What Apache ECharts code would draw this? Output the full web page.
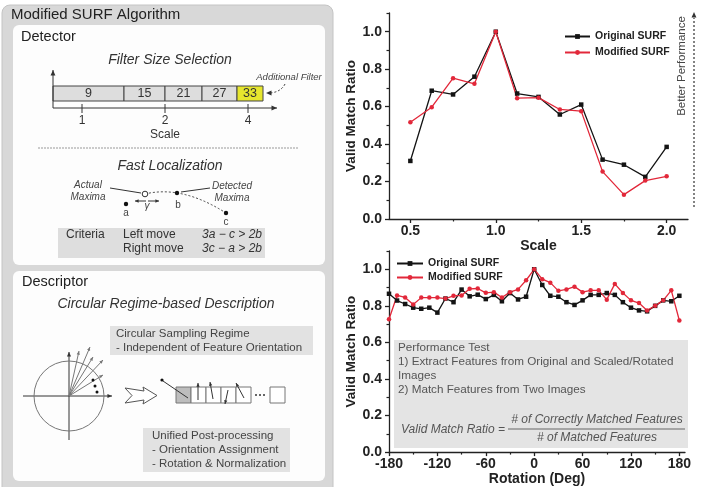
<!DOCTYPE html>
<html><head><meta charset="utf-8">
<script src="https://cdn.jsdelivr.net/npm/echarts@6/dist/echarts.min.js"></script>
<style>html,body{margin:0;padding:0;background:#fff}#c{width:701px;height:487px}</style>
</head><body><div id="c"></div>
<script>
// ---- data ----
const scaleX = [0.5, 0.625, 0.75, 0.875, 1.0, 1.125, 1.25, 1.375, 1.5, 1.625, 1.75, 1.875, 2.0];
const scaleOriginal = [0.31, 0.685, 0.665, 0.76, 1.0, 0.67, 0.652, 0.558, 0.611, 0.317, 0.29, 0.225, 0.385];
const scaleModified = [0.517, 0.597, 0.752, 0.722, 1.0, 0.645, 0.648, 0.585, 0.576, 0.253, 0.13, 0.205, 0.228];
const scaleTicks = [0.5, 1.0, 1.5, 2.0];
const scaleMinorTicks = [0.75, 1.25, 1.75];

const rotationX = [-180, -170, -160, -150, -140, -130, -120, -110, -100, -90, -80, -70, -60, -50, -40, -30, -20, -10, 0,
  10, 20, 30, 40, 50, 60, 70, 80, 90, 100, 110, 120, 130, 140, 150, 160, 170, 180];
const rotOriginal = [0.866, 0.829, 0.81, 0.79, 0.784, 0.79, 0.763, 0.84, 0.82, 0.889, 0.852, 0.861, 0.837, 0.86, 0.825, 0.87, 0.835, 0.85, 1.0,
  0.914, 0.855, 0.85, 0.82, 0.805, 0.83, 0.86, 0.86, 0.87, 0.86, 0.82, 0.79, 0.775, 0.77, 0.80, 0.83, 0.825, 0.855];
const rotModified = [0.727, 0.857, 0.846, 0.807, 0.845, 0.845, 0.845, 0.84, 0.855, 0.857, 0.893, 0.895, 0.871, 0.875, 0.846, 0.875, 0.89, 0.94, 1.0,
  0.946, 0.927, 0.882, 0.89, 0.905, 0.875, 0.885, 0.885, 0.834, 0.92, 0.87, 0.83, 0.815, 0.775, 0.80, 0.83, 0.885, 0.72];
const rotTicks = [-180, -120, -60, 0, 60, 120, 180];
const rotMinorTicks = [-150, -90, -30, 30, 90, 150];
const ratioTicks = [0, 0.2, 0.4, 0.6, 0.8, 1.0];
const ratioMinorTicks = [0.1, 0.3, 0.5, 0.7, 0.9, 1.1];
const seriesNames = ['Original SURF', 'Modified SURF'];
const filterSizes = ['9', '15', '21', '27', '33'];
const scaleLevels = ['1', '2', '4'];

// ---- helpers for the diagram ----
const FONT = '"Liberation Sans", Arial, Helvetica, sans-serif';
function font(size, o) { o = o || {}; return (o.italic ? 'italic ' : '') + (o.bold ? 'bold ' : '') + size + 'px ' + FONT; }
function T(text, x, y, size, o) {
  o = o || {};
  return { type: 'text', x: x, y: y, rotation: o.rot || 0, z: 10,
    style: { text: text, fill: o.fill || '#333', font: font(size, o), align: o.align || 'left', verticalAlign: 'middle' } };
}
function R(x, y, w, h, fill, o) {
  o = o || {};
  return { type: 'rect', z: o.z || 5, shape: { x: x, y: y, width: w, height: h, r: o.r || 0 },
    style: { fill: fill, stroke: o.stroke || null, lineWidth: o.lw || 1 } };
}
function L(x1, y1, x2, y2, o) {
  o = o || {};
  return { type: 'line', z: 10, shape: { x1: x1, y1: y1, x2: x2, y2: y2 },
    style: { stroke: o.stroke || '#333', lineWidth: o.lw || 1, lineDash: o.dash || null } };
}
function C(cx, cy, r, fill, stroke) {
  return { type: 'circle', z: 11, shape: { cx: cx, cy: cy, r: r }, style: { fill: fill, stroke: stroke || null, lineWidth: 1 } };
}
function A(x, y, ang, s, color) {
  s = s || 5;
  const a1 = ang - 0.42, a2 = ang + 0.42;
  return { type: 'polygon', z: 11, shape: { points: [[x, y], [x - s * Math.cos(a1), y - s * Math.sin(a1)], [x - s * Math.cos(a2), y - s * Math.sin(a2)]] },
    style: { fill: color || '#333' } };
}
function arrowLine(x1, y1, x2, y2, o) {
  o = o || {};
  const ang = Math.atan2(y2 - y1, x2 - x1);
  return [L(x1, y1, x2, y2, o), A(x2, y2, ang, o.s || 5, o.stroke)];
}

const g = [];
// outer panel
g.push(R(2, 5, 331, 495, '#d8d8d8', { r: 8, stroke: '#c4c4c4', z: 1 }));
g.push(T('Modified SURF Algorithm', 11, 15, 15, { fill: '#222' }));
// Detector box
g.push(R(13, 25, 312, 240, '#fdfdfd', { r: 6, z: 2 }));
g.push(T('Detector', 21, 37, 14.5, { fill: '#222' }));
g.push(T('Filter Size Selection', 170, 60, 14, { italic: true, align: 'center' }));
const cellEdges = [53, 124, 165, 202, 237, 263];
for (let i = 0; i < filterSizes.length; i++) {
  const x0 = cellEdges[i], x1 = cellEdges[i + 1];
  g.push(R(x0, 86, x1 - x0, 15, i === 4 ? '#e6e62e' : '#dddddd', { stroke: '#444', z: 6 }));
  g.push(T(filterSizes[i], (x0 + x1) / 2, 93.5, 12.5, { align: 'center', fill: '#333' }));
}
g.push(...arrowLine(53, 108, 53, 70, { s: 6 }));
g.push(...arrowLine(53, 108, 277, 108, { s: 6 }));
const lvX = [82, 165, 248];
for (let i = 0; i < 3; i++) {
  g.push(L(lvX[i], 104, lvX[i], 113));
  g.push(T(scaleLevels[i], lvX[i], 121, 12, { align: 'center' }));
}
g.push(T('Scale', 165, 135, 12, { align: 'center' }));
g.push(T('Additional Filter', 289, 77, 9.5, { italic: true, align: 'center', fill: '#444' }));
g.push({ type: 'bezierCurve', z: 10, shape: { x1: 285, y1: 84, cpx1: 281, cpy1: 92, x2: 270, y2: 93 }, style: { stroke: '#333', fill: null, lineDash: [2, 2], lineWidth: 1 } });
g.push(A(266, 93, Math.PI, 6));
g.push(L(38, 148, 298, 148, { stroke: '#999', dash: [2, 1] }));
g.push(T('Fast Localization', 170, 166, 14, { italic: true, align: 'center' }));
// localization sketch
g.push(T('Actual', 88, 185, 10, { italic: true, align: 'center', fill: '#444' }));
g.push(T('Maxima', 88, 197, 10, { italic: true, align: 'center', fill: '#444' }));
g.push(L(110, 188, 141, 193));
g.push({ type: 'bezierCurve', z: 10, shape: { x1: 145, y1: 194, cpx1: 182, cpy1: 185, x2: 226, y2: 213 }, style: { stroke: '#444', fill: null, lineDash: [2, 2], lineWidth: 1 } });
g.push(C(145, 194, 2.8, '#fff', '#333'));
g.push(C(126, 204, 2.2, '#111'));
g.push(C(177, 193, 2.2, '#111'));
g.push(C(226, 213, 2.2, '#111'));
g.push(T('a', 126, 213, 10, { align: 'center', fill: '#444' }));
g.push(T('b', 178, 205, 10, { align: 'center', fill: '#444' }));
g.push(T('c', 226, 222, 10, { align: 'center', fill: '#444' }));
g.push(...arrowLine(146, 201, 135, 201, { s: 4 }));
g.push(...arrowLine(148, 201, 159, 201, { s: 4 }));
g.push(T('\u03b3', 147, 206, 10, { italic: true, align: 'center', fill: '#444' }));
g.push(T('Detected', 232, 186, 10, { italic: true, align: 'center', fill: '#444' }));
g.push(T('Maxima', 232, 198, 10, { italic: true, align: 'center', fill: '#444' }));
g.push(L(181, 192, 210, 188));
g.push(R(58, 228, 207, 30, '#dedede', { z: 6 }));
g.push(T('Criteria', 66, 235, 12));
g.push(T('Left move', 123, 235, 12));
g.push(T('3a \u2212 c > 2b', 202, 235, 12, { italic: true }));
g.push(T('Right move', 123, 249, 12));
g.push(T('3c \u2212 a > 2b', 202, 249, 12, { italic: true }));
// Descriptor box
g.push(R(13, 271, 312, 210, '#fdfdfd', { r: 6, z: 2 }));
g.push(T('Descriptor', 22, 282, 14.5, { fill: '#222' }));
g.push(T('Circular Regime-based Description', 166, 304, 14, { italic: true, align: 'center' }));
g.push(R(110, 326, 203, 29, '#e2e2e2', { z: 6 }));
g.push(T('Circular Sampling Regime', 116, 334, 11.5, { fill: '#444' }));
g.push(T('- Independent of Feature Orientation', 116, 348, 11.5, { fill: '#444' }));
g.push(C(69, 396, 35, null, '#777'));
g.push(...arrowLine(23, 396, 112, 396, { s: 5 }));
g.push(...arrowLine(69, 440, 69, 352, { s: 5 }));
const rayEnds = [[79, 351], [90, 347], [93, 357], [103, 360], [103, 375]];
rayEnds.forEach(p => g.push(...arrowLine(69, 396, p[0], p[1], { s: 4, stroke: '#777' })));
[[93, 380], [95, 386], [97, 392]].forEach(p => g.push(C(p[0], p[1], 1.5, '#111')));
g.push({ type: 'polygon', z: 10, shape: { points: [[125, 388], [144, 391], [143, 387], [157, 395.5], [143, 404], [144, 400], [125, 403], [132, 395.5]] },
  style: { fill: '#fff', stroke: '#555', lineWidth: 1 } });
const boxX = [176, 191, 206, 221, 236];
boxX.forEach((x, i) => g.push(R(x, 387, 15, 16, i === 0 ? '#bdbdbd' : '#fff', { stroke: '#777', z: 9 })));
g.push(R(270, 387, 15, 16, '#fff', { stroke: '#777', z: 9 }));
[256, 260, 264].forEach(x => g.push(C(x, 395, 1, '#333')));
g.push(L(188, 398, 163, 381));
g.push(C(162, 380, 1.6, '#111'));
g.push(...arrowLine(198, 400, 198, 383, { s: 4 }));
g.push(...arrowLine(213, 399, 210, 382, { s: 4 }));
g.push(...arrowLine(228, 390, 225, 404, { s: 4 }));
g.push(...arrowLine(244, 398, 236, 383, { s: 4 }));
g.push(R(143, 428, 147, 44, '#e2e2e2', { z: 6 }));
g.push(T('Unified Post-processing', 152, 436, 11.5, { fill: '#444' }));
g.push(T('- Orientation Assignment', 152, 450, 11.5, { fill: '#444' }));
g.push(T('- Rotation & Normalization', 152, 464, 11.5, { fill: '#444' }));
// right-side annotations
g.push(T('Better Performance', 682, 66, 11.5, { rot: Math.PI / 2, align: 'center', fill: '#444' }));
g.push(L(694, 207, 694, 18, { dash: [2, 2], lw: 1.2 }));
g.push(A(694, 12, -Math.PI / 2, 6));
g.push(R(394, 340, 294, 108, '#e4e4e4', { z: 0 }));
g.push(T('Performance Test', 398, 348, 11.7, { fill: '#555' }));
g.push(T('1) Extract Features from Original and Scaled/Rotated', 398, 362, 11.7, { fill: '#555' }));
g.push(T('Images', 398, 376, 11.7, { fill: '#555' }));
g.push(T('2) Match Features from Two Images', 398, 390, 11.7, { fill: '#555' }));
g.push(T('Valid Match Ratio =', 505, 430, 12, { italic: true, align: 'right', fill: '#555' }));
g.push(L(508, 429, 685, 429, { stroke: '#666' }));
g.push(T('# of Correctly Matched Features', 597, 420, 12, { italic: true, align: 'center', fill: '#555' }));
g.push(T('# of Matched Features', 597, 438, 12, { italic: true, align: 'center', fill: '#555' }));

// ---- chart ----
const AX = '#222';
const lab = { fontFamily: FONT, fontWeight: 'bold', fontSize: 14, color: '#222' };
function xMain(grid, min, max, ticks, fmt, name) {
  return { gridIndex: grid, type: 'value', position: 'bottom', min: min, max: max,
    axisLine: { onZero: false, lineStyle: { color: AX, width: 1.3 } },
    axisTick: { customValues: ticks, length: 4, lineStyle: { color: AX, width: 1.3 } },
    axisLabel: Object.assign({ customValues: ticks, margin: 5, formatter: fmt }, lab),
    splitLine: { show: false }, name: name, nameLocation: 'middle', nameGap: 19,
    nameTextStyle: { fontFamily: FONT, fontWeight: 'bold', fontSize: 14, color: '#222' } };
}
function xMinor(grid, min, max, ticks) {
  return { gridIndex: grid, type: 'value', position: 'bottom', offset: 0, min: min, max: max,
    axisLine: { show: false, onZero: false }, axisLabel: { show: false }, splitLine: { show: false },
    axisTick: { customValues: ticks, length: 2.5, lineStyle: { color: AX, width: 1.2 } } };
}
function yMain(grid) {
  return { gridIndex: grid, type: 'value', position: 'left', min: 0, max: 1.1,
    axisLine: { show: true, onZero: false, lineStyle: { color: AX, width: 1.3 } },
    axisTick: { show: true, customValues: ratioTicks, length: 4, lineStyle: { color: AX, width: 1.3 } },
    axisLabel: Object.assign({ customValues: ratioTicks, margin: 7, formatter: v => v.toFixed(1) }, lab),
    splitLine: { show: false }, name: 'Valid Match Ratio', nameLocation: 'middle', nameGap: 31,
    nameTextStyle: { fontFamily: FONT, fontWeight: 'bold', fontSize: 13.5, color: '#222' } };
}
function yMinor(grid) {
  return { gridIndex: grid, type: 'value', position: 'left', offset: 0, min: 0, max: 1.1,
    axisLine: { show: false, onZero: false }, axisLabel: { show: false }, splitLine: { show: false },
    axisTick: { show: true, customValues: ratioMinorTicks, length: 2.5, lineStyle: { color: AX, width: 1.2 } } };
}
function pairs(xs, ys) { return xs.map((x, i) => [x, ys[i]]); }
const BLACK = '#141414', RED = '#e2283a';
function ser(name, xa, ya, data, color, sym) {
  return { type: 'line', name: name, xAxisIndex: xa, yAxisIndex: ya, data: data, symbol: sym, symbolSize: 4.5,
    showSymbol: true, lineStyle: { color: color, width: 1.3 }, itemStyle: { color: color }, z: 5, animation: false };
}
const legendText = { fontFamily: FONT, fontWeight: 'bold', fontSize: 10.5, color: '#222' };
const option = {
  backgroundColor: '#fff',
  animation: false,
  grid: [
    { left: 389, top: 13, width: 299, height: 206 },
    { left: 389, top: 251, width: 296, height: 206 }
  ],
  xAxis: [
    xMain(0, 0.375, 2.125, scaleTicks, v => v.toFixed(1), 'Scale'),
    xMinor(0, 0.375, 2.125, scaleMinorTicks),
    xMain(1, -180, 187, rotTicks, v => String(v), 'Rotation (Deg)'),
    xMinor(1, -180, 187, rotMinorTicks)
  ],
  yAxis: [yMain(0), yMinor(0), yMain(1), yMinor(1)],
  legend: [
    { data: seriesNames, orient: 'vertical', left: 559, top: 26, itemWidth: 25, itemHeight: 6, itemGap: 5, textStyle: legendText },
    { data: seriesNames, orient: 'vertical', left: 391, top: 253, itemWidth: 26, itemHeight: 6, itemGap: 3, textStyle: legendText }
  ],
  series: [
    ser(seriesNames[0], 0, 0, pairs(scaleX, scaleOriginal), BLACK, 'rect'),
    ser(seriesNames[1], 0, 0, pairs(scaleX, scaleModified), RED, 'circle'),
    ser(seriesNames[0], 2, 2, pairs(rotationX, rotOriginal), BLACK, 'rect'),
    ser(seriesNames[1], 2, 2, pairs(rotationX, rotModified), RED, 'circle')
  ],
  graphic: { elements: g }
};
const chart = echarts.init(document.getElementById('c'), null, { renderer: 'canvas' });
chart.setOption(option);
</script></body></html>
